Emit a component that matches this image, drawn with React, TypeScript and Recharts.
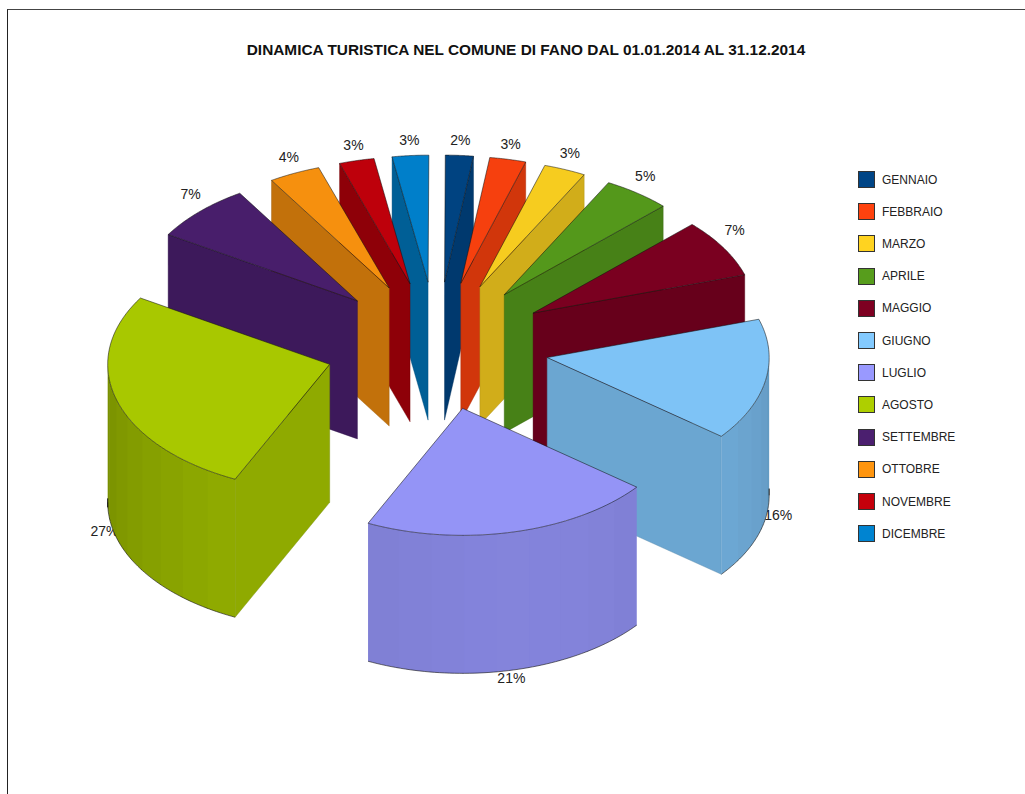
import React from "react";
import { PieChart, Pie, Legend } from "recharts";

const TITLE = "DINAMICA TURISTICA NEL COMUNE DI FANO DAL 01.01.2014 AL 31.12.2014";
const MONTHS = ["GENNAIO","FEBBRAIO","MARZO","APRILE","MAGGIO","GIUGNO","LUGLIO","AGOSTO","SETTEMBRE","OTTOBRE","NOVEMBRE","DICEMBRE"];
const SHARES = [2.03, 2.64, 3.06, 4.92, 7.42, 15.53, 21.36, 26.75, 7.36, 3.75, 2.55, 2.65];
const COLORS = ["#004586","#ff420e","#ffd320","#579d1c","#7e0021","#83caff","#9999ff","#aecf00","#4b1f6f","#ff950e","#c5000b","#0084d1"];
// painter's order: back slices first, front slices last
const DRAW_ORDER = [0, 11, 1, 10, 2, 9, 3, 8, 4, 5, 7, 6];

const rows = MONTHS.map((name, i) => ({ name, value: SHARES[i] }));
const FONT = "'Liberation Sans', Arial, sans-serif";

const TILT = 0.572;
const EXPLODE = 112;
const DEPTH = 138;
const EDGE = "#111111";

function shade(hex: string, f: number) {
  const n = parseInt(hex.slice(1), 16);
  const c = [(n >> 16) & 255, (n >> 8) & 255, n & 255].map((v) => Math.round(v * f));
  return `rgb(${c[0]},${c[1]},${c[2]})`;
}

function Slice(props: any, target: number) {
  const name = props.name ?? props.payload?.name;
  const index = MONTHS.indexOf(name);
  if (index !== target) return <g />;
  const { cx, cy, outerRadius: r, startAngle, endAngle, percent } = props;
  const fill = COLORS[index];
  const rad = (d: number) => (d * Math.PI) / 180;
  const t0 = 90 - startAngle;
  const t1 = 90 - endAngle;
  const mid = (t0 + t1) / 2;
  const ox = cx + EXPLODE * Math.sin(rad(mid));
  const oy = cy - EXPLODE * TILT * Math.cos(rad(mid));
  const pt = (t: number): [number, number] => [ox + r * Math.sin(rad(t)), oy - r * TILT * Math.cos(rad(t))];
  const P = (p: [number, number], dz = 0) => `${p[0].toFixed(2)},${(p[1] + dz).toFixed(2)}`;

  const arcTop: string[] = [];
  for (let t = t0; t <= t1 + 0.001; t += (t1 - t0) / 48) arcTop.push(P(pt(t)));

  const walls: React.ReactNode[] = [];
  const apex: [number, number] = [ox, oy];
  const radial = (t: number, key: string, f: number) => (
    <polygon key={key} points={`${P(apex)} ${P(pt(t))} ${P(pt(t), DEPTH)} ${P(apex, DEPTH)}`} fill={shade(fill, f)} stroke={shade(fill, f * 0.8)} strokeWidth={0.4} />
  );
  if (t0 > 180 && t0 < 360) walls.push(radial(t0, "s", t0 >= 340 ? 0.72 : t0 >= 320 ? 0.76 : 0.82));
  if (t1 > 0 && t1 < 180) walls.push(radial(t1, "e", 0.82));

  const a = Math.max(t0, 90);
  const b = Math.min(t1, 270);
  if (b > a) {
    const step = 9;
    const stripes = Math.max(1, Math.ceil((b - a) / step));
    const h = (b - a) / stripes;
    for (let i = 0; i < stripes; i++) {
      const u = a + i * h;
      const v = Math.min(b, a + (i + 1) * h + 0.6);
      const f = 0.72 + 0.14 * Math.cos(rad(a + (i + 0.5) * h - 165));
      const col = shade(fill, f);
      const pts: string[] = [];
      for (let k = 0; k <= 3; k++) pts.push(P(pt(u + (k * (v - u)) / 3)));
      for (let k = 3; k >= 0; k--) pts.push(P(pt(u + (k * (v - u)) / 3), DEPTH));
      walls.push(<polygon key={`w${i}`} points={pts.join(" ")} fill={col} />);
    }
    const base: string[] = [];
    for (let k = 0; k <= 60; k++) base.push(P(pt(a + (k * (b - a)) / 60), DEPTH));
    walls.push(<polyline key="base" points={base.join(" ")} fill="none" stroke={EDGE} strokeWidth={0.6} />);
    if (a === 90) {
      const s = pt(90);
      walls.push(<line key="t" x1={s[0]} x2={s[0]} y1={s[1] + DEPTH - 7} y2={s[1] + DEPTH} stroke={EDGE} strokeWidth={1} />);
    }
    if (b === 270) {
      const s = pt(270);
      walls.push(<line key="t2" x1={s[0]} x2={s[0]} y1={s[1] + DEPTH - 4} y2={s[1] + DEPTH + 5} stroke={EDGE} strokeWidth={1} />);
    }
  }

  const L = 347;
  const sm = Math.sin(rad(mid));
  const cm = Math.cos(rad(mid));
  const lx = cx + L * sm - (cm < 0 && Math.abs(sm) < 0.4 ? 5 : 0);
  const ly = cm > 0
    ? cy - L * TILT * cm - 8 - 8 * sm * sm
    : cy - L * TILT * cm + DEPTH + (sm < -0.5 ? -10 : sm > 0.5 ? -5 : 1);

  return (
    <g>
      <text x={lx} y={ly} textAnchor="middle" dominantBaseline="central" fontFamily={FONT} fontSize={14} fill="#222">
        {`${Math.round(percent * 100)}%`}
      </text>
      {walls}
      <polygon points={`${P(apex)} ${arcTop.join(" ")}`} fill={shade(fill, 0.965)} stroke={EDGE} strokeWidth={0.6} strokeOpacity={0.9} strokeLinejoin="round" />
    </g>
  );
}

function LegendBox() {
  return (
    <div style={{ position: "relative", width: 130, height: 390, fontFamily: FONT, fontSize: 12, color: "#222" }}>
      {MONTHS.map((m, i) => (
        <div key={m} style={{ position: "absolute", left: 0, top: i * 32.2, height: 17, display: "flex", alignItems: "center" }}>
          <span style={{ display: "inline-block", boxSizing: "border-box", width: 17, height: 17, background: COLORS[i], border: "1px solid #333" }} />
          <span style={{ marginLeft: 7, whiteSpace: "nowrap" }}>{m}</span>
        </div>
      ))}
    </div>
  );
}

export default function App() {
  return (
    <div style={{ position: "absolute", left: 0, top: 0, width: 1025, height: 794, overflow: "hidden", background: "#fff" }}>
      <div style={{ position: "absolute", left: 7, top: 9, width: 1018, height: 785, borderTop: "1.5px solid #444", borderLeft: "1px solid #222" }} />
      <div style={{ position: "absolute", left: 0, top: 41, width: 1052, textAlign: "center", fontFamily: FONT, fontWeight: 700, fontSize: 15.4, lineHeight: "18px", color: "#111", whiteSpace: "nowrap" }}>
        {TITLE}
      </div>
      <div style={{ position: "absolute", left: 0, top: 0 }}>
        <PieChart width={1025} height={794} margin={{ top: 0, right: 0, bottom: 0, left: 0 }}>
          {DRAW_ORDER.map((target) => (
            <Pie
              key={target}
              data={rows}
              dataKey="value"
              nameKey="name"
              cx={437}
              cy={346}
              innerRadius={0}
              outerRadius={222}
              startAngle={89.8}
              endAngle={-270.2}
              paddingAngle={0}
              isAnimationActive={false}
              label={false}
              labelLine={false}
              legendType="none"
              shape={(p: any) => Slice(p, target)}
            />
          ))}
          <Legend content={() => <LegendBox />} wrapperStyle={{ position: "absolute", left: 858, top: 171, width: 130, height: 390, bottom: "auto", right: "auto" }} />
        </PieChart>
      </div>
    </div>
  );
}
